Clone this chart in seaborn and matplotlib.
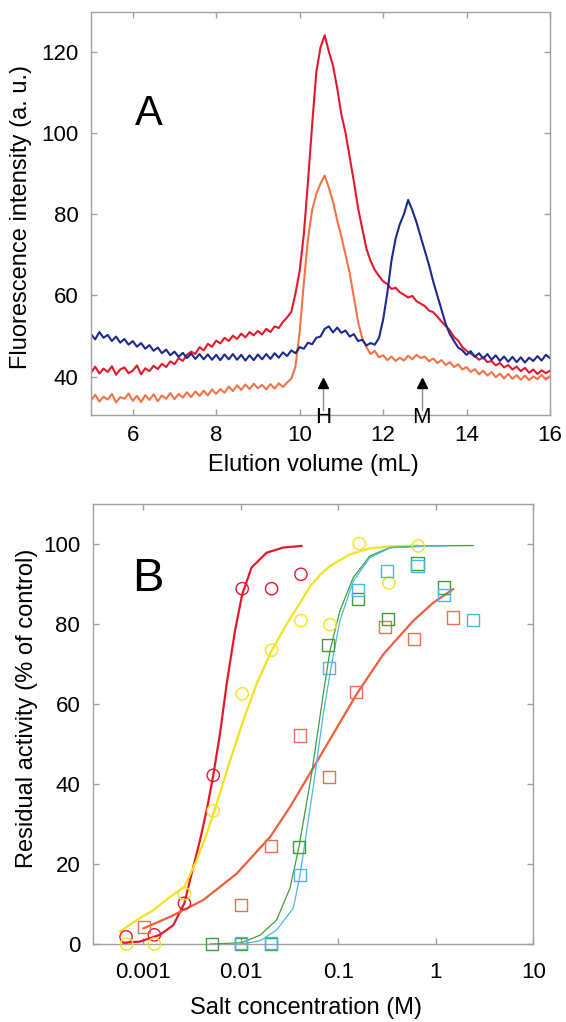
import matplotlib
matplotlib.use("Agg")
import matplotlib.pyplot as plt
import numpy as np
import seaborn as sns

# ---- Panel A: elution profiles, one value every 0.1 mL from 5 to 16 mL ----
red_trace = [
    41.0, 42.5, 40.8, 42.0, 41.2, 42.6, 40.5, 41.8, 42.3, 40.9,
    41.5, 42.8, 40.6, 42.1, 41.4, 42.7, 41.9, 43.2, 42.4, 43.8,
    43.1, 44.6, 43.9, 45.4, 46.2, 45.6, 47.3, 46.5, 48.1, 47.4,
    48.9, 48.2, 49.6, 48.8, 50.1, 49.3, 50.6, 49.7, 51.0, 50.2,
    51.3, 50.4, 51.8, 51.0, 52.4, 52.0, 53.5, 54.6, 56.0, 60.5,
    66.0, 75.0, 88.0, 102.0, 115.0, 121.0, 124.0, 120.0, 116.5, 111.0,
    104.5, 100.0, 94.0, 88.0, 81.5, 76.5, 71.5, 68.5, 66.3, 64.8,
    63.5, 62.8, 61.6, 61.9, 60.8, 60.2, 59.5, 59.9, 58.6, 58.0,
    57.4, 56.3, 55.9, 54.8, 53.6, 52.5, 51.4, 49.8, 48.9, 47.3,
    46.4, 45.7, 45.1, 44.2, 44.8, 43.6, 43.9, 42.8, 43.4, 42.3,
    42.9, 41.8, 42.5, 41.4, 42.2, 41.0, 41.8, 40.7, 41.6, 40.9,
    41.5,
]
orange_trace = [
    34.2, 35.6, 33.9, 35.1, 34.4, 35.8, 33.7, 35.0, 34.6, 35.9,
    34.1, 35.3, 33.8, 35.5, 34.3, 35.7, 34.0, 35.4, 34.6, 36.0,
    34.5, 35.8, 34.9, 36.2, 35.0, 36.4, 35.3, 36.6, 35.4, 36.9,
    35.8, 37.0, 36.1, 37.6, 36.5, 37.9, 36.8, 38.1, 37.0, 38.3,
    37.2, 38.0, 36.9, 38.2, 37.1, 38.4, 37.5, 38.6, 39.5, 42.5,
    51.0, 63.0, 74.0, 81.0, 85.0, 87.5, 89.5, 86.5, 83.0, 78.5,
    74.5, 70.0, 65.5, 59.5, 53.5, 49.5, 47.3, 45.6, 46.4, 44.8,
    45.3, 44.1, 45.0, 43.9, 44.7, 44.0, 45.2, 44.3, 45.4, 44.6,
    45.0, 43.8, 44.5, 43.4, 44.1, 42.9, 43.6, 42.4, 43.1, 41.8,
    42.4, 41.2, 41.9, 40.6, 41.5, 40.3, 41.2, 39.9, 40.8, 39.6,
    40.7, 39.5, 40.4, 39.3, 40.3, 39.2, 40.1, 39.4, 40.5, 39.3,
    40.2,
]
blue_trace = [
    50.5, 49.2, 51.0, 49.6, 50.3, 48.8, 49.9, 48.4, 49.3, 47.9,
    48.8, 47.4, 48.3, 46.9, 47.8, 46.4, 47.2, 45.8, 46.7, 45.3,
    46.2, 44.9, 45.9, 44.6, 45.7, 44.4, 45.6, 44.3, 45.5, 44.2,
    45.4, 44.1, 45.5, 44.3, 45.6, 44.2, 45.4, 44.0, 45.3, 44.1,
    45.5, 44.3, 45.6, 44.4, 45.8, 44.7, 46.0, 45.1, 46.5, 45.8,
    47.3, 46.9, 48.4, 48.0, 49.6, 49.9, 51.8, 52.4, 50.9, 52.1,
    50.8, 51.4, 49.9, 50.5, 48.8, 49.1, 47.7, 48.3, 47.9, 49.5,
    54.0, 60.5, 68.5, 74.0, 77.5, 80.0, 83.5, 81.0, 78.0, 74.5,
    71.0, 67.5, 63.5, 60.0, 56.5, 53.0, 50.5, 48.8, 47.2, 46.5,
    45.4, 46.3, 44.9, 45.8, 44.5, 45.6, 44.2, 45.3, 43.9, 45.0,
    43.7, 44.9, 43.6, 44.8, 43.5, 44.7, 43.9, 45.1, 44.0, 45.4,
    44.6,
]
marker_pos = [10.56, 12.93]
marker_names = ["H", "M"]

# ---- Panel B: residual activity vs salt concentration ----
red_x = [0.000666, 0.0013, 0.00264, 0.00522, 0.01035, 0.0207, 0.0414]
red_y = [1.8, 2.3, 10.2, 42.2, 88.9, 88.9, 92.5]
yellow_x = [0.000676, 0.0013, 0.00264, 0.00522, 0.01035, 0.0207, 0.0414,
            0.0822, 0.164, 0.331, 0.66]
yellow_y = [0, 0, 12.6, 33.3, 62.6, 73.5, 80.9, 79.9, 100.2, 90.3, 99.6]
orange_x = [0.00102, 0.0100, 0.0203, 0.0405, 0.0803, 0.151, 0.301, 0.602, 1.49]
orange_y = [4.3, 9.7, 24.5, 52.2, 41.8, 63.0, 79.4, 76.3, 81.7]
green_x = [0.0051, 0.0100, 0.0203, 0.0395, 0.0789, 0.160, 0.321, 0.649, 1.21]
green_y = [0, 0, 0, 24.3, 74.9, 86.3, 81.3, 95.2, 89.2]
blue_x = [0.0100, 0.0203, 0.0405, 0.0803, 0.160, 0.318, 0.649, 1.21, 2.39]
blue_y = [0.2, 0.2, 17.2, 69.1, 88.5, 93.3, 94.6, 87.3, 81.0]

red_fit_x = [0.000624, 0.000925, 0.00148, 0.00203, 0.00264, 0.00313, 0.00382,
             0.00454, 0.00522, 0.00612, 0.00717, 0.00873, 0.01035, 0.0129,
             0.0184, 0.0273, 0.0422]
red_fit_y = [0.3, 0.6, 2.3, 4.7, 10.2, 17.6, 26.0, 34.3, 42.2, 52.6, 65.1,
             78.4, 87.5, 94.2, 97.9, 99.2, 99.6]
yellow_fit_x = [0.000577, 0.000855, 0.00127, 0.00188, 0.00264, 0.00353, 0.00447,
                0.00566, 0.00776, 0.0106, 0.01455, 0.0207, 0.0295, 0.0438,
                0.0513, 0.0649, 0.0822, 0.132, 0.211, 0.339, 0.66]
yellow_fit_y = [3.1, 6.0, 8.5, 11.8, 14.3, 21.0, 27.6, 35.1, 45.9, 55.9, 65.1,
                73.4, 80.0, 86.7, 89.5, 92.3, 94.6, 97.5, 99.0, 99.5, 99.7]
orange_fit_x = [0.001, 0.00188, 0.00412, 0.00907, 0.02, 0.032, 0.0533, 0.0889,
                0.155, 0.29, 0.589, 0.944, 1.51]
orange_fit_y = [3.9, 6.8, 11.0, 17.6, 26.8, 34.3, 43.4, 52.6, 62.6, 72.5, 80.9,
                85.4, 88.8]
green_fit_x = [0.00483, 0.01004, 0.01574, 0.0233, 0.032, 0.0395, 0.0533, 0.0702,
               0.0822, 0.104, 0.1425, 0.211, 0.339, 0.745, 2.43]
green_fit_y = [0, 0.3, 2.2, 6.0, 14.0, 24.3, 42.6, 62.6, 73.4, 83.4, 91.7, 97.1,
               99.2, 99.6, 99.7]
blue_fit_x = [0.01004, 0.01574, 0.0233, 0.0346, 0.0405, 0.0554, 0.0702, 0.0855,
              0.104, 0.1425, 0.211, 0.339, 0.745, 1.29]
blue_fit_y = [0, 0.8, 3.5, 9.0, 17.2, 39.3, 57.6, 70.0, 80.9, 90.8, 96.7, 99.1,
              99.5, 99.6]

salt_ticks = [0.001, 0.01, 0.1, 1, 10]
salt_labels = ["0.001", "0.01", "0.1", "1", "10"]

RED = "#e3192b"
ORANGE_A = "#f07448"
NAVY = "#1b2a8c"
YELLOW = "#f4e21c"
ORANGE_B = "#ef5f3c"
GREEN = "#3f9e38"
SKY = "#4ab8e6"
SPINE = "#a0a0a0"

sns.set_theme(style="ticks")
plt.rcParams["font.family"] = ["Liberation Sans", "DejaVu Sans"]
plt.rcParams["axes.edgecolor"] = SPINE
plt.rcParams["axes.linewidth"] = 1.0
plt.rcParams["text.color"] = "black"
plt.rcParams["axes.labelcolor"] = "black"


def style_axes(ax, xpad, ypad):
    ax.tick_params(axis="both", which="major", direction="in", length=4,
                   width=1, color=SPINE, labelsize=16, labelcolor="black",
                   top=True, right=True)
    ax.tick_params(axis="x", pad=xpad)
    ax.tick_params(axis="y", pad=ypad)
    for sp in ax.spines.values():
        sp.set_visible(True)
        sp.set_color(SPINE)


fig = plt.figure(figsize=(5.66, 10.22), dpi=100)

# ---------------- Panel A ----------------
axA = fig.add_axes([0.1608, 0.5939, 0.8109, 0.3947])
vol = np.linspace(5, 16, len(red_trace))
sns.lineplot(x=vol, y=orange_trace, ax=axA, color=ORANGE_A, lw=1.5, sort=False)
sns.lineplot(x=vol, y=red_trace, ax=axA, color=RED, lw=1.5, sort=False)
sns.lineplot(x=vol, y=blue_trace, ax=axA, color=NAVY, lw=1.5, sort=False)

for pos, name in zip(marker_pos, marker_names):
    axA.plot([pos, pos], [31.8, 37.5], color="#909090", lw=1.0)
    axA.plot([pos], [38.4], marker="^", color="black", markersize=7, ls="none")
    axA.text(pos, 29.9, name, ha="center", va="center", fontsize=16,
             color="black", clip_on=False)

axA.text(6.39, 104.7, "A", ha="center", va="center", fontsize=30, color="black")
axA.set_xlim(5, 16)
axA.set_ylim(30.6, 129.8)
axA.set_xticks([6, 8, 10, 12, 14, 16])
axA.set_yticks([40, 60, 80, 100, 120])
style_axes(axA, xpad=7, ypad=9)
axA.set_xlabel("Elution volume (mL)", fontsize=17, va="center", color="black")
axA.set_ylabel("Fluorescence intensity (a. u.)", fontsize=17, va="center",
               color="black")
axA.xaxis.set_label_coords(0.484, -0.124)
axA.yaxis.set_label_coords(-0.1525, 0.49)

# ---------------- Panel B ----------------
axB = fig.add_axes([0.1638, 0.0763, 0.7784, 0.4302])
axB.set_xscale("log")

fits = [
    (red_fit_x, red_fit_y, RED, 1.6),
    (yellow_fit_x, yellow_fit_y, YELLOW, 1.6),
    (orange_fit_x, orange_fit_y, ORANGE_B, 1.6),
    (green_fit_x, green_fit_y, GREEN, 0.9),
    (blue_fit_x, blue_fit_y, SKY, 0.9),
]
for fx, fy, col, lw in fits:
    sns.lineplot(x=fx, y=fy, ax=axB, color=col, lw=lw, sort=False)

points = [
    (red_x, red_y, RED, "o"),
    (yellow_x, yellow_y, YELLOW, "o"),
    (orange_x, orange_y, "#ee6c52", "s"),
    (green_x, green_y, GREEN, "s"),
    (blue_x, blue_y, SKY, "s"),
]
for px, py, col, mk in points:
    sns.scatterplot(x=px, y=py, ax=axB, marker=mk, s=78, color=col,
                    facecolors="none", edgecolors=col, linewidth=1.0,
                    clip_on=False, zorder=3)

axB.text(0.00111, 91.3, "B", ha="center", va="center", fontsize=34, color="black")
axB.set_xlim(0.000303, 10)
axB.set_ylim(0, 110)
axB.set_xticks(salt_ticks, salt_labels)
axB.minorticks_off()
axB.set_yticks([0, 20, 40, 60, 80, 100])
style_axes(axB, xpad=13, ypad=9)
axB.set_xlabel("Salt concentration (M)", fontsize=17, va="center", color="black")
axB.set_ylabel("Residual activity (% of control)", fontsize=17, va="center",
               color="black")
axB.xaxis.set_label_coords(0.483, -0.1456)
axB.yaxis.set_label_coords(-0.149, 0.537)

fig.savefig("out.png", dpi=100)
plt.close(fig)
